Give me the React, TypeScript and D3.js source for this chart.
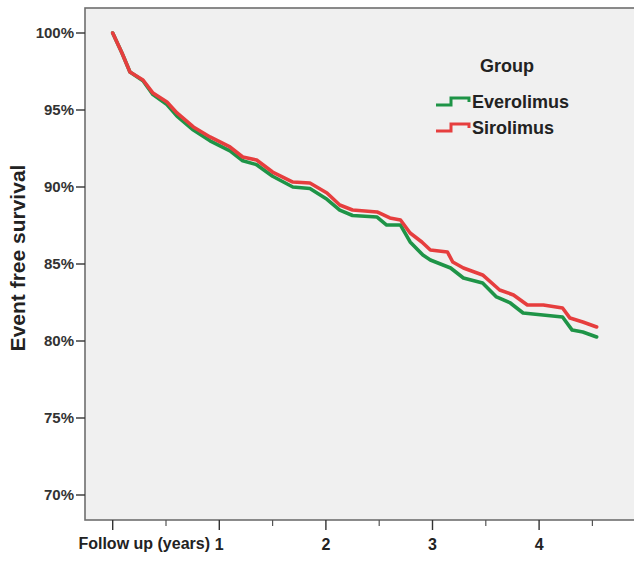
import React, { useEffect, useRef } from 'react';
import * as d3 from 'd3';

// follow-up time in years and event free survival (%)
const everolimusYears = [0, 0.087, 0.162, 0.284, 0.378, 0.509, 0.603, 0.757, 0.913, 1.1, 1.22, 1.35, 1.5, 1.69, 1.85, 2.01, 2.13, 2.25, 2.48, 2.57, 2.7, 2.79, 2.91, 2.98, 3.17, 3.29, 3.47, 3.6, 3.73, 3.85, 4.22, 4.31, 4.41, 4.54];
const everolimusSurvival = [100, 98.7, 97.47, 96.9, 96.0, 95.35, 94.6, 93.7, 93.0, 92.35, 91.7, 91.45, 90.7, 90.0, 89.9, 89.2, 88.5, 88.15, 88.05, 87.53, 87.53, 86.43, 85.58, 85.26, 84.74, 84.09, 83.77, 82.86, 82.47, 81.82, 81.56, 80.71, 80.58, 80.26];

const sirolimusYears = [0, 0.087, 0.162, 0.284, 0.378, 0.509, 0.603, 0.757, 0.913, 1.1, 1.22, 1.35, 1.5, 1.69, 1.85, 2.01, 2.13, 2.25, 2.48, 2.6, 2.7, 2.79, 2.9, 2.98, 3.14, 3.19, 3.29, 3.47, 3.63, 3.76, 3.89, 4.04, 4.22, 4.29, 4.41, 4.54];
const sirolimusSurvival = [100, 98.7, 97.47, 96.95, 96.1, 95.52, 94.81, 93.9, 93.25, 92.6, 91.95, 91.75, 90.97, 90.32, 90.26, 89.61, 88.83, 88.51, 88.38, 87.99, 87.86, 87.01, 86.43, 85.91, 85.78, 85.13, 84.74, 84.29, 83.31, 82.99, 82.34, 82.34, 82.14, 81.49, 81.23, 80.91];

const yTicks = [70, 75, 80, 85, 90, 95, 100];
const xMajorTicks = [0, 1, 2, 3, 4];
const xMinorTicks = [0.5, 1.5, 2.5, 3.5, 4.5];
const groupNames = ['Everolimus', 'Sirolimus'];
const groupColors = ['#1e9447', '#e63e3e'];

const W = 634;
const H = 562;
const FONT = '"Liberation Sans", Arial, sans-serif';

export default function App() {
  const svgRef = useRef<SVGSVGElement>(null);

  useEffect(() => {
    const svg = d3.select(svgRef.current);
    svg.selectAll('*').remove();

    const left = 85;
    const top = 8;
    const bottom = 520;

    const x = d3.scaleLinear().domain([0, 5]).range([112.7, 645.7]);
    const y = d3.scaleLinear().domain([70, 100]).range([495, 33]);

    // plot frame
    svg
      .append('rect')
      .attr('x', left)
      .attr('y', top)
      .attr('width', W + 20 - left)
      .attr('height', bottom - top)
      .attr('fill', '#f0f0f0')
      .attr('stroke', '#6e6e6e')
      .attr('stroke-width', 1.6);

    // y axis
    const yAxis = svg.append('g').attr('transform', `translate(${left},0)`);
    yAxis
      .selectAll('line')
      .data(yTicks)
      .enter()
      .append('line')
      .attr('x1', -9)
      .attr('x2', 0)
      .attr('y1', (d) => y(d))
      .attr('y2', (d) => y(d))
      .attr('stroke', '#333')
      .attr('stroke-width', 1.4);
    yAxis
      .selectAll('text')
      .data(yTicks)
      .enter()
      .append('text')
      .attr('x', -11)
      .attr('y', (d) => y(d))
      .attr('dy', '0.35em')
      .attr('text-anchor', 'end')
      .attr('font-family', FONT)
      .attr('font-weight', 'bold')
      .attr('font-size', 15)
      .attr('fill', '#333')
      .text((d) => `${d}%`);

    // x axis
    const xAxis = svg.append('g').attr('transform', `translate(0,${bottom})`);
    xAxis
      .selectAll('line.major')
      .data(xMajorTicks)
      .enter()
      .append('line')
      .attr('class', 'major')
      .attr('x1', (d) => x(d))
      .attr('x2', (d) => x(d))
      .attr('y1', 0)
      .attr('y2', 10)
      .attr('stroke', '#333')
      .attr('stroke-width', 1.4);
    xAxis
      .selectAll('line.minor')
      .data(xMinorTicks)
      .enter()
      .append('line')
      .attr('class', 'minor')
      .attr('x1', (d) => x(d))
      .attr('x2', (d) => x(d))
      .attr('y1', 0)
      .attr('y2', 6)
      .attr('stroke', '#555')
      .attr('stroke-width', 1.2);
    xAxis
      .selectAll('text')
      .data(xMajorTicks.filter((d) => d > 0))
      .enter()
      .append('text')
      .attr('x', (d) => x(d))
      .attr('y', 30)
      .attr('text-anchor', 'middle')
      .attr('font-family', FONT)
      .attr('font-weight', 'bold')
      .attr('font-size', 16)
      .attr('fill', '#222')
      .text((d) => d);

    svg
      .append('text')
      .attr('x', 210)
      .attr('y', bottom + 29)
      .attr('text-anchor', 'end')
      .attr('font-family', FONT)
      .attr('font-weight', 'bold')
      .attr('font-size', 16)
      .attr('fill', '#222')
      .text('Follow up (years)');

    svg
      .append('text')
      .attr('transform', `translate(25,258) rotate(-90)`)
      .attr('text-anchor', 'middle')
      .attr('font-family', FONT)
      .attr('font-weight', 'bold')
      .attr('font-size', 21)
      .attr('fill', '#222')
      .text('Event free survival');

    // survival curves
    const series = [
      { years: everolimusYears, surv: everolimusSurvival },
      { years: sirolimusYears, surv: sirolimusSurvival },
    ];
    const line = d3
      .line<[number, number]>()
      .x((d) => x(d[0]))
      .y((d) => y(d[1]))
      .curve(d3.curveLinear);
    series.forEach((s, i) => {
      const pts = s.years.map((t, j) => [t, s.surv[j]] as [number, number]);
      svg
        .append('path')
        .attr('d', line(pts))
        .attr('fill', 'none')
        .attr('stroke', groupColors[i])
        .attr('stroke-width', 3.6)
        .attr('stroke-linejoin', 'round')
        .attr('stroke-linecap', 'round');
    });

    // legend
    const lg = svg.append('g');
    lg.append('text')
      .attr('x', 507)
      .attr('y', 72)
      .attr('text-anchor', 'middle')
      .attr('font-family', FONT)
      .attr('font-weight', 'bold')
      .attr('font-size', 18)
      .attr('fill', '#222')
      .text('Group');
    groupNames.forEach((name, i) => {
      const cy = 102 + i * 26;
      lg.append('path')
        .attr('d', `M436,${cy + 3}H451V${cy - 4}H469V${cy}`)
        .attr('fill', 'none')
        .attr('stroke', groupColors[i])
        .attr('stroke-width', 3);
      lg.append('text')
        .attr('x', 472)
        .attr('y', cy)
        .attr('dy', '0.35em')
        .attr('font-family', FONT)
        .attr('font-weight', 'bold')
        .attr('font-size', 18)
        .attr('fill', '#222')
        .text(name);
    });
  }, []);

  return (
    <svg
      ref={svgRef}
      width={W}
      height={H}
      style={{ position: 'absolute', left: 0, top: 0, background: '#fff' }}
    />
  );
}
